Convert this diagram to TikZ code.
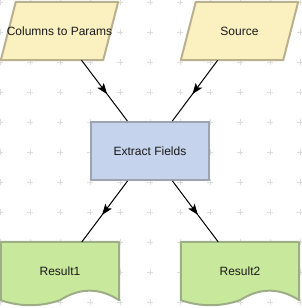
\documentclass[tikz,border=0pt]{standalone}
\usepackage{fontspec}
\setmainfont{Liberation Sans}
\usetikzlibrary{calc}
\usetikzlibrary{arrows.meta}
\usetikzlibrary{decorations.markings}

\definecolor{paramfill}{HTML}{FBF0C0}
\definecolor{paramline}{HTML}{B9B08D}
\definecolor{stepfill}{HTML}{C5D3EC}
\definecolor{stepline}{HTML}{9CA4B2}
\definecolor{docfill}{HTML}{C8E99C}
\definecolor{docline}{HTML}{9DAE86}
\definecolor{gridmark}{HTML}{DCDCDC}

\begin{document}
\begin{tikzpicture}[x=1pt, y=-1pt]
    \tikzset{
        every node/.style={font=\fontsize{12}{14}\selectfont, text=black!90},
        shapebox/.style={rectangle, minimum width=117pt, minimum height=58pt, inner sep=0pt},
        stepbox/.style={shapebox, minimum width=118pt, draw=stepline, fill=stepfill, line width=2pt},
        inputshape/.style={draw=paramline, fill=paramfill, line width=2pt, line join=round},
        docshape/.style={draw=docline, fill=docfill, line width=2pt, line join=round},
        flow/.style={draw=black, line width=1pt,
            postaction={decorate, decoration={markings,
                mark=at position 0.56 with {\arrow{Stealth[length=11pt, width=8pt, inset=2.5pt]}}}}}
    }

    % Canvas
    \useasboundingbox (0,0) rectangle (301,308);

    % Background grid marks
    \foreach \gx in {0,30,...,300} {
        \foreach \gy in {2,32,...,302} {
            \draw [gridmark, line width=0.8pt] (\gx-3,\gy) -- (\gx+3,\gy) (\gx,\gy-3) -- (\gx,\gy+3);
        }
    }

    % Constants
    \pgfmathsetmacro{\skew}{15}

    % Inputs
    \node [shapebox] (colparams) at (59.5,31) {};
    \node [shapebox] (source) at (239.5,31) {};
    \foreach \n in {colparams, source} {
        \draw [inputshape] (\n.south west) -- ($(\n.north west)+(\skew,0)$) -- (\n.north east)
            -- ($(\n.south east)-(\skew,0)$) -- cycle;
    }
    \node at (colparams) {Columns to Params};
    \node at (source) {Source};

    % Step
    \node [stepbox] (extract) at (150,151) {Extract Fields};

    % Outputs
    \node [shapebox, minimum width=118pt] (result1) at (60,271) {};
    \node [shapebox, minimum width=118pt] (result2) at (240,271) {};
    \foreach \n in {result1, result2} {
        \draw [docshape] (\n.north west) -- (\n.north east) -- (\n.south east)
            .. controls +(-19.7,-12.7) and +(19.7,-12.7) .. (\n.south)
            .. controls +(-19.7,6.7) and +(19.7,6.7) .. (\n.south west) -- cycle;
    }
    \node at (result1) {Result1};
    \node at (result2) {Result2};

    % Connectors
    \draw [flow] (colparams) -- (extract);
    \draw [flow] (source) -- (extract);
    \draw [flow] (extract) -- (result1);
    \draw [flow] (extract) -- (result2);

\end{tikzpicture}
\end{document}
